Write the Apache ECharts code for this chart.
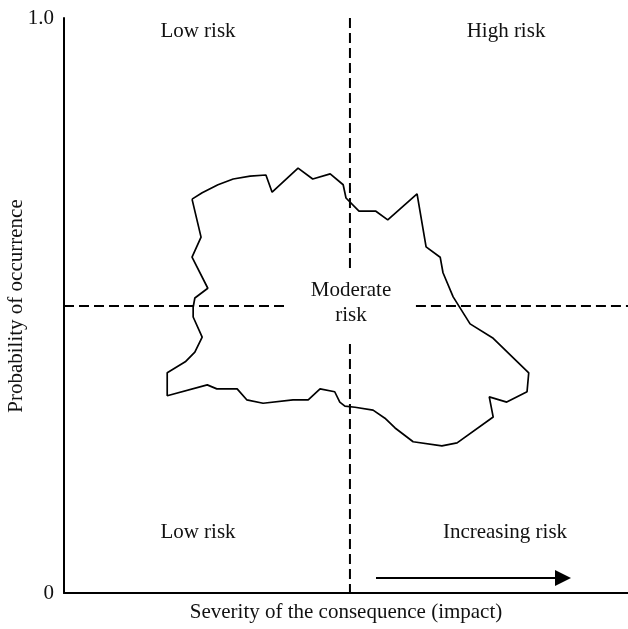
<!DOCTYPE html>
<html>
<head>
<meta charset="utf-8">
<script src="https://cdn.jsdelivr.net/npm/echarts@6/dist/echarts.min.js"></script>
<style>
  html, body { margin: 0; padding: 0; background: #fff; }
  #chart { width: 628px; height: 629px; }
</style>
</head>
<body>
<div id="chart"></div>
<script>
// axis scale: 0..100 on both axes, y ticks shown as 0 and 1.0
const yTicks = ['0', '1.0'];

// outline of the moderate-risk region (severity %, probability %)
const blobX = [22.7, 24.5, 27.3, 30.0, 33.0, 35.8, 36.9, 41.5, 44.1, 47.2, 49.5, 50.0, 52.3, 55.3, 57.4, 62.6,
  64.2, 66.7, 67.2, 69.0, 72.0, 76.1, 82.4, 82.1, 78.5, 75.4, 76.1, 69.7, 67.0, 61.9, 58.7, 56.9,
  54.8, 51.6, 49.8, 48.9, 48.0, 45.4, 43.3, 40.6, 35.3, 32.4, 30.7, 27.1, 25.4, 18.3, 18.3, 21.5,
  23.2, 24.5, 22.9, 22.9, 23.2, 25.5, 22.7, 24.3, 22.7];
const blobY = [68.5, 69.6, 71.0, 72.0, 72.5, 72.7, 69.7, 73.9, 72.0, 72.9, 71.0, 68.7, 66.4, 66.4, 64.9, 69.4,
  60.2, 58.4, 55.7, 51.5, 46.8, 44.3, 38.3, 35.0, 33.2, 34.1, 30.6, 26.1, 25.6, 26.3, 28.7, 30.4,
  31.8, 32.3, 32.5, 33.2, 35.0, 35.5, 33.6, 33.6, 33.0, 33.6, 35.5, 35.5, 36.2, 34.3, 38.3, 40.2,
  41.9, 44.5, 48.0, 49.7, 51.3, 53.0, 58.4, 61.9, 68.5];

// dashed quadrant dividers
const hDashLeft = [[0, 49.9], [39.5, 49.9]];
const hDashRight = [[62.4, 49.9], [100, 49.9]];
const vDashTop = [[50.7, 100], [50.7, 56.3]];
const vDashBottom = [[50.7, 43.3], [50.7, 0]];

const quadrantLabels = ['Low risk', 'High risk', 'Low risk', 'Increasing risk'];
const centerLabel = 'Moderate\nrisk';
const xTitle = 'Severity of the consequence (impact)';
const yTitle = 'Probability of occurrence';

const FONT = '"Liberation Serif", "DejaVu Serif", serif';
const chart = echarts.init(document.getElementById('chart'));

const dashStyle = { color: '#000', width: 2, type: [10, 5] };
function dashSeries(data) {
  return {
    type: 'line', data: data, symbol: 'none', silent: true,
    lineStyle: dashStyle
  };
}

function txt(text, x, y, extra) {
  return Object.assign({
    type: 'text', x: x, y: y,
    style: {
      text: text, font: '21px ' + FONT, fill: '#111',
      textAlign: 'center', textVerticalAlign: 'middle', lineHeight: 25
    }
  }, extra || {});
}

const option = {
  animation: false,
  backgroundColor: '#fff',
  grid: { left: 64, right: 0, top: 18, bottom: 36 },
  xAxis: {
    type: 'value', min: 0, max: 100,
    axisLine: { show: true, onZero: false, lineStyle: { color: '#000', width: 2 } },
    axisTick: { show: false },
    axisLabel: { show: false },
    splitLine: { show: false }
  },
  yAxis: {
    type: 'value', min: 0, max: 100, interval: 100,
    axisLine: { show: true, onZero: false, lineStyle: { color: '#000', width: 2 } },
    axisTick: { show: false },
    splitLine: { show: false },
    axisLabel: {
      margin: 10, color: '#111', fontSize: 21, fontFamily: FONT,
      formatter: v => (v === 0 ? yTicks[0] : yTicks[1])
    }
  },
  series: [
    dashSeries(hDashLeft),
    dashSeries(hDashRight),
    dashSeries(vDashTop),
    dashSeries(vDashBottom),
    {
      type: 'line',
      data: blobX.map((x, i) => [x, blobY[i]]),
      symbol: 'none',
      lineStyle: { color: '#000', width: 1.7 }
    }
  ],
  graphic: [
    txt(quadrantLabels[0], 198, 31),
    txt(quadrantLabels[1], 506, 31),
    txt(quadrantLabels[2], 198, 532),
    txt(quadrantLabels[3], 505, 532),
    txt(centerLabel, 351, 303),
    txt(xTitle, 346, 612),
    txt(yTitle, 16, 306, { rotation: Math.PI / 2 }),
    // increasing-risk arrow
    {
      type: 'line',
      shape: { x1: 376, y1: 578, x2: 557, y2: 578 },
      style: { stroke: '#000', lineWidth: 2 }
    },
    {
      type: 'polygon',
      shape: { points: [[555, 570], [571, 578], [555, 586]] },
      style: { fill: '#000' }
    }
  ]
};

chart.setOption(option);
</script>
</body>
</html>
